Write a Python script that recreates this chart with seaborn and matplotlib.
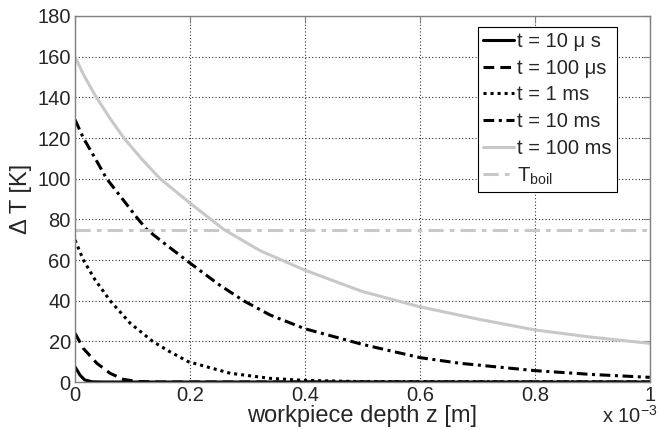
import numpy as np
import pandas as pd
import matplotlib
matplotlib.use("Agg")
import matplotlib.pyplot as plt
import seaborn as sns

# depth z in units of 1e-3 m, temperature rise in K
z_10us = [0, 0.0087, 0.017, 0.03, 0.05, 1.0]
T_10us = [7.5, 3.4, 1.0, 0.1, 0, 0]

z_100us = [0, 0.0145, 0.038, 0.061, 0.084, 0.107, 0.15, 1.0]
T_100us = [24, 16.5, 9.2, 4.3, 1.3, 0.3, 0, 0]

z_1ms = [0, 0.0145, 0.035, 0.061, 0.096, 0.136, 0.165, 0.197, 0.27, 0.339, 0.4, 0.5, 1.0]
T_1ms = [69.8, 60, 50.2, 40, 28.9, 19.8, 14.9, 10, 4.3, 1.8, 0.8, 0.2, 0]

z_10ms = [0, 0.0145, 0.035, 0.055, 0.084, 0.11, 0.125, 0.148, 0.2, 0.25, 0.293, 0.339, 0.4, 0.5, 0.6, 0.67, 0.8, 0.9, 1.0]
T_10ms = [129, 120, 110, 100, 89.5, 80, 75, 69.8, 58.5, 48, 40, 33, 26.2, 18.5, 12, 9.2, 5.6, 3.7, 2.3]

z_100ms = [0, 0.015, 0.035, 0.06, 0.085, 0.115, 0.148, 0.2, 0.259, 0.322, 0.4, 0.5, 0.6, 0.7, 0.8, 0.9, 1.0]
T_100ms = [160, 151, 141, 130, 120, 110, 100, 88, 75, 64.6, 55, 44.5, 37, 31, 25.6, 22, 19]

z_boil = [0, 1.0]
T_boil = [75, 75]

labels = ["t = 10 \u03bc s", "t = 100 \u03bcs", "t = 1 ms", "t = 10 ms", "t = 100 ms", r"T$_{\rm boil}$"]

sns.set_style("white")
plt.rcParams['font.family'] = ['Liberation Sans', 'DejaVu Sans']
plt.rcParams['mathtext.fontset'] = 'custom'
plt.rcParams['mathtext.rm'] = 'Liberation Sans'

fig = plt.figure(figsize=(6.61, 4.3), dpi=100)
ax = fig.add_axes([0.1135, 0.1116, 0.8695, 0.8512])

gray = '#c8c8c8'
series = [
    (z_10us, T_10us, 'black', '-'),
    (z_100us, T_100us, 'black', (0, (3.5, 2))),
    (z_1ms, T_1ms, 'black', (0, (1, 1.3))),
    (z_10ms, T_10ms, 'black', (0, (3.5, 1.5, 1, 1.5))),
    (z_100ms, T_100ms, gray, '-'),
    (z_boil, T_boil, gray, (0, (5, 2, 1.5, 2))),
]
for (zz, tt, col, ls), lab in zip(series, labels):
    df = pd.DataFrame({'z': zz, 'T': tt})
    sns.lineplot(data=df, x='z', y='T', ax=ax, color=col, linestyle=ls,
                 linewidth=2.2, label=lab)

ax.set_xlim(0, 1)
ax.set_ylim(0, 180)
ax.set_xticks([0, 0.2, 0.4, 0.6, 0.8, 1.0])
ax.set_xticklabels(['0', '0.2', '0.4', '0.6', '0.8', '1'])
ax.set_yticks(range(0, 181, 20))
ax.grid(True, color='#333333', linestyle=(0, (1, 2)), linewidth=0.8)
for s in ax.spines.values():
    s.set_color('#808080')
    s.set_linewidth(1)
ax.tick_params(direction='in', length=5, color='#808080', labelsize=14.5,
               top=True, right=True, pad=3)
ax.set_xlabel('workpiece depth z [m]', fontsize=17, labelpad=0)
ax.set_ylabel('\u0394 T [K]', fontsize=17, labelpad=4)

fig.text(0.995, 1 - 423 / 430, r'x 10$^{-3}$', fontsize=14.5, ha='right', va='baseline')

leg = ax.legend(loc='upper right', bbox_to_anchor=(0.943, 0.97), fontsize=14.5,
                frameon=True, fancybox=False, framealpha=1, edgecolor='black',
                handlelength=1.55, handletextpad=0.15, labelspacing=0.38,
                borderpad=0.25, borderaxespad=0)
leg.get_frame().set_linewidth(0.8)

fig.savefig('out.png', dpi=100)
